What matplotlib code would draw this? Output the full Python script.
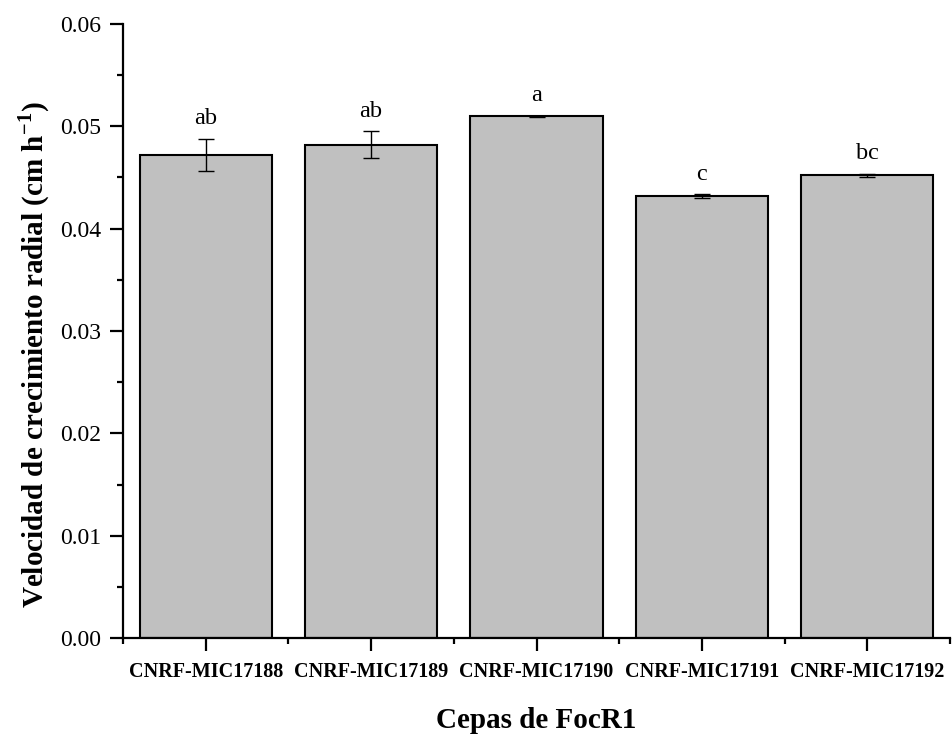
import matplotlib
matplotlib.use("Agg")
import matplotlib.pyplot as plt
import numpy as np
from matplotlib.ticker import MultipleLocator

categories = ["CNRF-MIC17188", "CNRF-MIC17189", "CNRF-MIC17190", "CNRF-MIC17191", "CNRF-MIC17192"]
values = [0.0472, 0.0482, 0.0510, 0.04315, 0.04524]
errors = [0.0016, 0.0013, 0.00005, 0.0002, 0.00015]
letters = ["ab", "ab", "a", "c", "bc"]

plt.rcParams['font.family'] = ['Liberation Serif', 'DejaVu Serif']
plt.rcParams['mathtext.fontset'] = 'custom'
plt.rcParams['mathtext.rm'] = 'Liberation Serif'
plt.rcParams['mathtext.bf'] = 'Liberation Serif:bold'

fig = plt.figure(figsize=(9.53, 7.34), dpi=100)
ax = fig.add_axes([123/953, 1 - 638/734, (950-123)/953, (638-24)/734])

x = np.arange(len(categories))
ax.bar(x, values, width=0.8, color='#c0c0c0', edgecolor='black', linewidth=1.5, zorder=2)
ax.errorbar(x, values, yerr=errors, fmt='none', ecolor='black', elinewidth=1.0,
            capsize=6, capthick=1.0, zorder=3)
for xi, v, e, t in zip(x, values, errors, letters):
    ax.text(xi, v + e + 0.0009, t, ha='center', va='bottom', fontsize=17.5)

ax.set_xlim(-0.5, len(categories) - 0.5)
ax.set_ylim(0, 0.06)
ax.yaxis.set_minor_locator(MultipleLocator(0.005))
ax.set_yticks(np.arange(0, 0.0601, 0.01))
ax.set_yticklabels([f"{v:.2f}" for v in np.arange(0, 0.0601, 0.01)], fontsize=17)
ax.set_xticks(x)
ax.set_xticklabels(categories, fontsize=14.5, fontweight='bold')
ax.set_xticks(np.arange(-0.5, len(categories)), minor=True)

for s in ['top', 'right']:
    ax.spines[s].set_visible(False)
for s in ['left', 'bottom']:
    ax.spines[s].set_linewidth(1.6)
ax.tick_params(axis='both', which='major', direction='out', length=9.5, width=1.6)
ax.tick_params(axis='both', which='minor', direction='out', length=4.5, width=1.6)
ax.tick_params(axis='x', which='major', pad=8)
ax.tick_params(axis='y', which='major', pad=6)

ax.set_xlabel("Cepas de FocR1", fontsize=21, fontweight='bold', labelpad=18)
ax.set_ylabel(r"Velocidad de crecimiento radial (cm h$^{\mathbf{-1}}$)", fontsize=21,
              fontweight='bold', labelpad=6, y=0.461)

fig.savefig("out.png", dpi=100)
